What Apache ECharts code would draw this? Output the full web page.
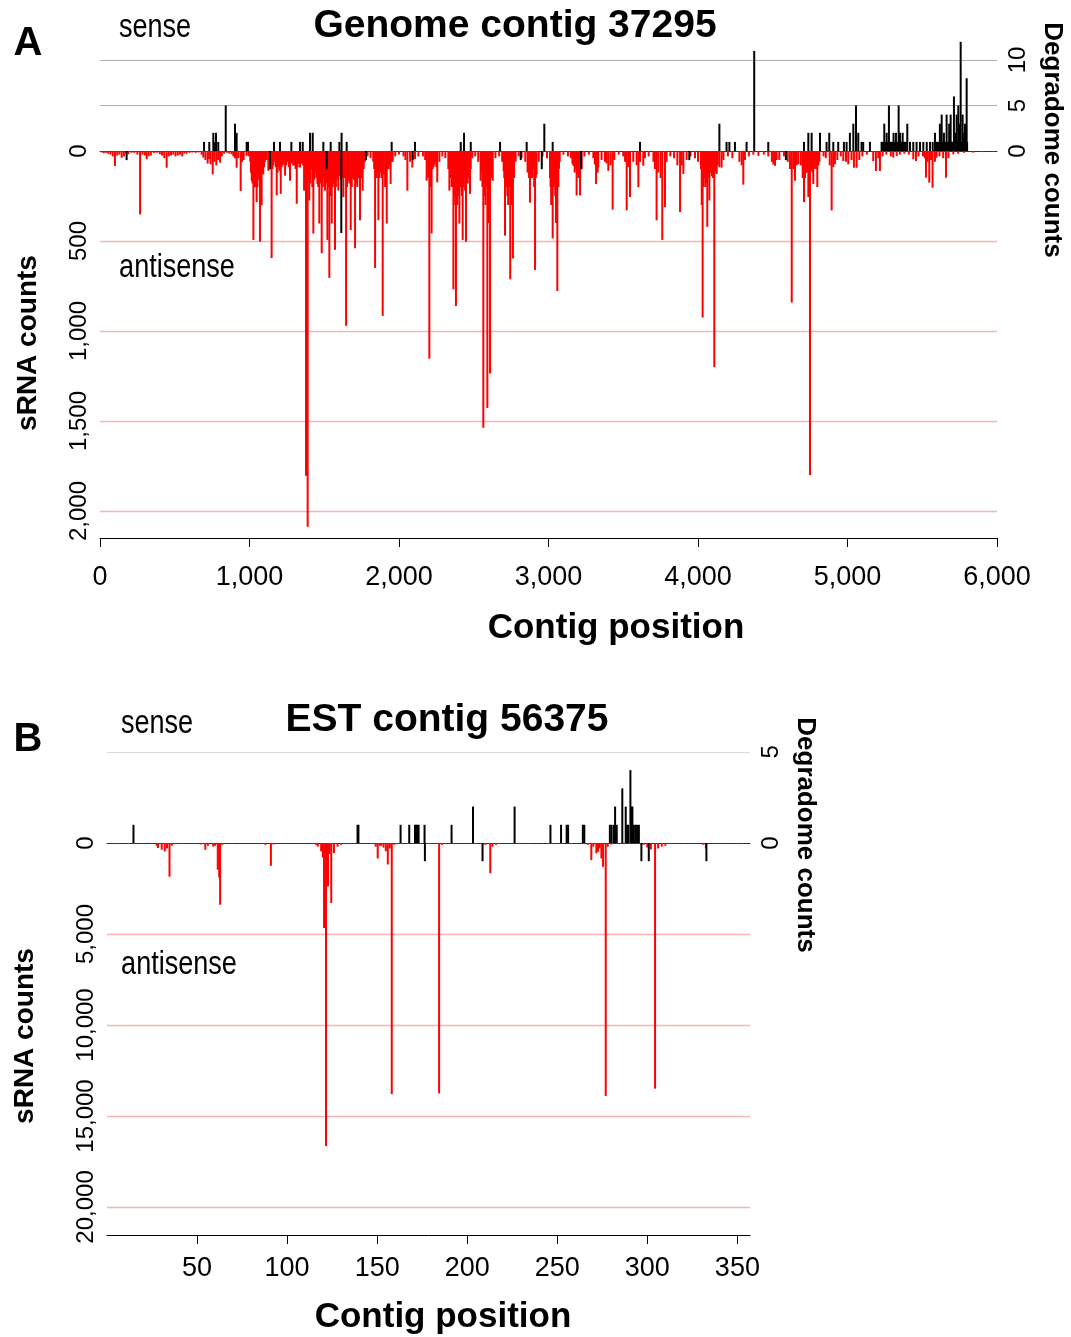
<!DOCTYPE html>
<html><head><meta charset="utf-8">
<script src="https://cdn.jsdelivr.net/npm/echarts@6/dist/echarts.min.js"></script>
<style>html,body{margin:0;padding:0;background:#fff}#c{width:1071px;height:1337px}</style>
</head><body><div id="c"></div>
<script>
// ---------- Panel A: Genome contig 37295 ----------
// [contig position, sRNA count] antisense
const genomeSrnaAntisense = [[10,8],[25,12],[40,10],[55,15],[70,20],[85,30],[100,83],[115,25],[130,20],[145,37],[160,30],[175,15],[190,18],[210,10],[230,10],[250,20],[268,352],[285,20],[300,25],[312,46],[325,30],[340,25],[360,12],[380,10],[400,18],[415,25],[430,40],[446,93],[460,30],[475,25],[490,20],[505,30],[520,25],[535,20],[550,30],[565,15],[580,15],[600,10],[620,8],[640,10],[660,8],[680,20],[691,37],[705,50],[720,70],[730,45],[740,74],[754,130],[765,60],[778,80],[790,50],[803,65],[815,30],[830,15],[850,10],[865,15],[881,18],[892,30],[903,40],[914,93],[925,40],[941,222],[950,60],[961,50],[981,27],[995,30],[1005,60],[1010,120],[1015,165],[1020,180],[1026,494],[1031,150],[1037,201],[1043,170],[1048,284],[1053,200],[1059,150],[1064,160],[1070,504],[1076,180],[1081,302],[1087,120],[1092,130],[1098,90],[1104,60],[1115,50],[1126,110],[1137,70],[1148,595],[1154,100],[1160,80],[1171,60],[1176,90],[1182,247],[1188,120],[1195,90],[1202,110],[1209,238],[1215,90],[1222,80],[1230,70],[1238,137],[1245,80],[1255,60],[1263,90],[1271,165],[1278,70],[1285,60],[1292,80],[1300,80],[1308,100],[1316,293],[1322,90],[1329,70],[1338,92],[1345,70],[1352,60],[1358,80],[1365,220],[1372,150],[1378,1804],[1383,200],[1389,2088],[1395,160],[1400,275],[1407,180],[1414,100],[1420,200],[1427,458],[1433,160],[1440,120],[1447,150],[1454,183],[1460,200],[1467,403],[1474,180],[1483,568],[1490,200],[1494,120],[1499,150],[1505,220],[1512,180],[1521,494],[1527,200],[1534,705],[1542,250],[1550,403],[1556,200],[1561,180],[1566,180],[1572,549],[1578,200],[1583,160],[1589,150],[1594,220],[1600,140],[1605,110],[1611,160],[1620,150],[1628,256],[1635,150],[1646,971],[1652,200],[1661,165],[1668,180],[1677,440],[1684,200],[1690,150],[1698,160],[1706,540],[1713,180],[1721,200],[1729,150],[1739,385],[1747,150],[1757,220],[1764,100],[1772,60],[1790,30],[1810,40],[1828,60],[1834,100],[1840,650],[1846,150],[1851,150],[1856,120],[1862,385],[1868,150],[1877,120],[1884,150],[1891,916],[1897,130],[1907,200],[1912,120],[1918,403],[1924,100],[1931,100],[1938,80],[1944,183],[1950,60],[1958,60],[1975,30],[2000,20],[2030,30],[2043,50],[2056,220],[2074,60],[2089,92],[2107,45],[2130,30],[2160,30],[2175,50],[2185,165],[2195,150],[2203,1154],[2210,200],[2218,458],[2225,100],[2230,90],[2238,80],[2245,60],[2250,90],[2256,174],[2270,60],[2290,30],[2310,40],[2330,100],[2337,220],[2344,150],[2352,200],[2358,200],[2364,769],[2370,250],[2376,300],[2381,861],[2386,200],[2390,300],[2396,250],[2404,403],[2410,200],[2415,200],[2420,250],[2426,494],[2431,200],[2437,150],[2442,220],[2448,504],[2454,180],[2460,180],[2467,150],[2475,238],[2480,100],[2490,40],[2510,30],[2530,60],[2546,165],[2552,120],[2558,200],[2564,1538],[2570,250],[2578,300],[2584,200],[2591,1428],[2596,250],[2600,400],[2604,200],[2609,1236],[2614,150],[2618,150],[2622,100],[2627,165],[2645,40],[2670,30],[2690,60],[2700,111],[2704,150],[2709,470],[2714,200],[2720,200],[2725,250],[2730,300],[2736,200],[2744,713],[2749,200],[2755,300],[2759,180],[2762,597],[2766,120],[2770,150],[2780,60],[2800,30],[2820,40],[2845,60],[2860,120],[2870,150],[2876,287],[2883,130],[2890,150],[2898,100],[2904,200],[2910,661],[2915,150],[2920,130],[2935,60],[2960,30],[2990,40],[3010,150],[3014,200],[3018,300],[3022,250],[3028,485],[3034,200],[3040,180],[3045,250],[3050,400],[3054,200],[3059,778],[3066,200],[3070,100],[3075,60],[3100,20],[3130,30],[3150,40],[3160,70],[3166,82],[3175,120],[3182,100],[3188,247],[3194,130],[3200,150],[3205,120],[3211,247],[3216,100],[3222,101],[3240,30],[3270,20],[3300,40],[3310,75],[3318,183],[3329,120],[3333,90],[3355,50],[3378,60],[3389,70],[3400,110],[3415,80],[3429,326],[3440,50],[3470,20],[3500,30],[3512,60],[3523,330],[3534,90],[3545,256],[3567,60],[3590,80],[3601,201],[3612,60],[3634,82],[3645,40],[3670,30],[3702,60],[3712,100],[3723,385],[3734,120],[3750,150],[3761,494],[3779,311],[3790,60],[3815,30],[3840,40],[3862,80],[3880,339],[3891,80],[3902,128],[3924,50],[3950,30],[3980,40],[4000,60],[4020,100],[4025,300],[4031,925],[4036,200],[4040,150],[4044,150],[4049,200],[4055,180],[4062,421],[4068,150],[4076,275],[4083,120],[4092,140],[4100,150],[4109,1200],[4117,120],[4125,128],[4132,80],[4143,90],[4158,92],[4170,50],[4200,30],[4230,40],[4277,60],[4292,80],[4303,187],[4314,50],[4340,30],[4370,20],[4404,27],[4440,20],[4470,30],[4494,60],[4504,75],[4515,82],[4526,50],[4544,50],[4575,30],[4600,60],[4615,100],[4627,842],[4638,100],[4649,165],[4660,80],[4671,73],[4688,80],[4700,150],[4705,120],[4709,284],[4716,150],[4722,120],[4730,120],[4738,256],[4744,150],[4749,1800],[4755,100],[4760,110],[4766,120],[4771,183],[4777,100],[4782,90],[4790,100],[4798,200],[4805,80],[4812,60],[4840,30],[4855,40],[4881,80],[4894,330],[4905,90],[4916,73],[4932,50],[4955,30],[4972,56],[4990,60],[5005,74],[5027,50],[5043,93],[5061,93],[5079,50],[5100,30],[5130,20],[5172,56],[5190,111],[5206,40],[5217,111],[5235,30],[5260,20],[5290,30],[5306,37],[5329,28],[5350,20],[5380,15],[5410,20],[5440,46],[5458,56],[5475,30],[5505,30],[5518,40],[5525,148],[5536,60],[5547,176],[5558,50],[5569,204],[5585,60],[5596,37],[5615,30],[5640,40],[5659,148],[5675,40],[5708,19],[5740,15],[5780,10],[5841,9],[5900,6],[5975,4]];
// [contig position, degradome count] sense
const genomeDegradomeSense = [[696,1],[731,1],[758,2],[768,1],[776,2],[791,1],[841,5],[903,3],[909,1],[914,2],[981,1],[990,1],[1164,1],[1204,1],[1280,1],[1338,1],[1356,1],[1405,2],[1423,2],[1494,1],[1543,1],[1601,1],[1616,2],[1650,1],[1951,1],[2107,1],[2413,1],[2435,2],[2480,1],[2676,1],[2854,1],[2972,3],[3028,1],[3612,1],[4143,3],[4191,1],[4210,1],[4247,1],[4325,1],[4376,11],[4470,1],[4709,1],[4738,2],[4760,2],[4816,2],[4860,1],[4878,2],[4905,1],[4938,1],[4976,1],[4994,1],[5016,2],[5039,3],[5057,5],[5072,2],[5094,1],[5105,1],[5150,1],[5228,1],[5235,1],[5240,1],[5246,3],[5252,1],[5258,1],[5262,2],[5268,1],[5277,5],[5283,1],[5290,1],[5296,1],[5302,1],[5308,2],[5314,1],[5324,2],[5330,1],[5336,1],[5342,5],[5351,2],[5357,1],[5363,1],[5369,2],[5376,1],[5384,1],[5390,1],[5400,3],[5418,1],[5440,1],[5462,1],[5485,1],[5507,1],[5530,1],[5552,1],[5570,1],[5585,2],[5592,1],[5600,1],[5606,1],[5612,1],[5618,3],[5624,1],[5630,4],[5638,1],[5645,2],[5652,1],[5658,1],[5663,4],[5670,1],[5676,1],[5680,3],[5686,1],[5690,4],[5696,1],[5702,1],[5707,1],[5712,6],[5717,1],[5722,2],[5726,1],[5730,4],[5736,1],[5741,5],[5746,1],[5750,3],[5754,1],[5757,12],[5763,1],[5770,4],[5775,1],[5780,2],[5786,3],[5792,1],[5797,8],[5800,1]];
// [contig position, degradome count] antisense (drawn downward)
const genomeDegradomeAntisense = [[178,1],[1137,2],[1516,2],[1614,9],[1779,1],[2092,1],[2814,1],[2955,2],[3218,2],[3942,1],[4588,1]];

// ---------- Panel B: EST contig 56375 ----------
const estSrnaAntisense = [[3,40],[6,60],[9,40],[12,50],[15,30],[20,40],[24,30],[27.6,150],[28.3,275],[30.4,367],[32.1,458],[33.3,300],[34.7,1850],[36,150],[38,60],[40,20],[42,40],[45,20],[48,30],[52,80],[54.6,370],[56,150],[59,200],[60,150],[61.5,1470],[62.3,1900],[62.8,3390],[64,100],[65,30],[70,40],[75,30],[80,30],[85,60],[88,100],[91,1250],[92.5,80],[95,20],[96,40],[100,30],[105,30],[110,20],[114,60],[116,100],[117,200],[118.9,458],[119.8,800],[120.5,4674],[121.6,16650],[122.7,2383],[123.5,600],[124.5,3300],[126,550],[128,200],[130,100],[133,60],[135,20],[137,40],[140,30],[147,50],[149.2,200],[150.3,850],[151.5,150],[152.2,150],[153.5,250],[154.8,450],[155.9,1180],[157,300],[158.1,13800],[159.5,100],[161,60],[163,40],[166,30],[170,30],[175,20],[180,40],[182,60],[184.4,13760],[186,100],[188,60],[190,40],[195,20],[205,40],[208,60],[210,100],[212.8,1660],[214,200],[216,100],[218,60],[222,30],[228,30],[235,40],[242,50],[245,40],[248,60],[252,40],[258,40],[265,60],[267,100],[268.9,940],[270,200],[271.7,570],[272.6,480],[273.5,300],[274.5,850],[275.4,1310],[276.9,13900],[278,200],[280,80],[285,30],[290,40],[296,60],[298,100],[300,250],[302,350],[304.3,13500],[306,300],[308,200],[310,150],[313,60],[320,30],[325,20],[331,100],[332.5,300],[340,20],[345,20],[350,30],[353,40]];
const estDegradomeSense = [[14.7,1],[139.1,1],[139.6,1],[163,1],[167.8,1],[171,1],[171.6,1],[172.3,1],[173,1],[176.3,1],[191.3,1],[203.2,2],[226.3,2],[246.2,1],[252.1,1],[255.2,1],[256,1],[264.2,1],[265,1],[279.2,1],[280.2,1],[281.5,1],[282.1,2],[283,1],[286.1,3],[288,2],[288.8,1],[289.4,1],[290.6,4],[291.2,2],[291.7,2],[292.4,1],[293.3,1],[294.3,1],[295.3,1]];
const estDegradomeAntisense = [[176.5,1],[208.5,1],[296.7,1],[300.8,1],[332.8,1]];

const FONT = '"Liberation Sans", Arial, Helvetica, sans-serif';
const thousands = v => Math.round(v).toLocaleString('en-US');

const chart = echarts.init(document.getElementById('c'), null, {renderer: 'canvas'});

function topXAxis(grid, max) {
  return {gridIndex: grid, type: 'value', min: 0, max: max, position: 'bottom',
    axisLine: {show: true, onZero: true, lineStyle: {color: '#333', width: 1}},
    axisTick: {show: false}, axisLabel: {show: false}, splitLine: {show: false}};
}
function bottomXAxis(grid, max, interval, showMin, showMax, margin) {
  return {gridIndex: grid, type: 'value', min: 0, max: max, interval: interval, position: 'bottom',
    axisLine: {show: true, onZero: false, lineStyle: {color: '#000', width: 1}},
    axisTick: {show: true, length: 9, lineStyle: {color: '#000'}},
    axisLabel: {show: true, color: '#000', fontFamily: FONT, fontSize: 27, margin: margin,
      showMinLabel: showMin, showMaxLabel: showMax, formatter: thousands},
    splitLine: {show: false}};
}
function degAxis(grid, max, color) {
  return {gridIndex: grid, type: 'value', position: 'right', min: 0, max: max, interval: 5,
    axisLine: {show: false}, axisTick: {show: false},
    axisLabel: {show: true, rotate: 90, color: '#000', fontFamily: FONT, fontSize: 24, margin: 9, showMaxLabel: false},
    splitLine: {show: true, showMinLine: false, showMaxLine: false, lineStyle: {color: color, width: 1.2}}};
}
function srnaAxis(grid, max, interval) {
  return {gridIndex: grid, type: 'value', position: 'left', inverse: true, min: 0, max: max, interval: interval,
    axisLine: {show: false}, axisTick: {show: false},
    axisLabel: {show: true, rotate: 90, color: '#000', fontFamily: FONT, fontSize: 24, margin: 9,
      showMaxLabel: false, formatter: thousands},
    splitLine: {show: true, showMinLine: false, showMaxLine: false, lineStyle: {color: '#f7b4b4', width: 1.4}}};
}
function hiddenDown(grid, max) {
  return {gridIndex: grid, type: 'value', position: 'right', inverse: true, min: 0, max: max, show: false,
    axisLabel: {show: false}, axisTick: {show: false}, axisLine: {show: false}, splitLine: {show: false}};
}
function bars(xi, yi, data, color) {
  return {type: 'bar', xAxisIndex: xi, yAxisIndex: yi, data: data, barWidth: 2, barGap: '-100%',
    itemStyle: {color: color}, silent: true, animation: false};
}
function txt(x, y, text, font, rot, sx) {
  return {type: 'text', x: x, y: y, rotation: rot || 0, scaleX: sx || 1, silent: true,
    style: {text: text, font: font, fill: '#000', align: 'center', verticalAlign: 'middle',
      textAlign: 'center', textVerticalAlign: 'middle'}};
}

chart.setOption({
  animation: false,
  backgroundColor: '#fff',
  grid: [
    {left: 100, width: 897, top: 40, height: 111},
    {left: 100, width: 897, top: 151, height: 387},
    {left: 107, width: 643, top: 743, height: 100},
    {left: 107, width: 643, top: 843, height: 392}
  ],
  xAxis: [
    topXAxis(0, 6000),
    bottomXAxis(1, 6000, 1000, true, true, 26),
    topXAxis(2, 357),
    bottomXAxis(3, 357, 50, false, false, 20)
  ],
  yAxis: [
    degAxis(0, 12.2, '#a9afb6'),
    srnaAxis(1, 2150, 500),
    hiddenDown(1, 42.5),
    degAxis(2, 5.49, '#d9d9d9'),
    srnaAxis(3, 21540, 5000),
    hiddenDown(3, 21.54)
  ],
  series: [
    bars(1, 1, genomeSrnaAntisense, '#ff0000'),
    bars(1, 2, genomeDegradomeAntisense, '#000000'),
    bars(0, 0, genomeDegradomeSense, '#000000'),
    bars(3, 4, estSrnaAntisense, '#ff0000'),
    bars(3, 5, estDegradomeAntisense, '#000000'),
    bars(2, 3, estDegradomeSense, '#000000')
  ],
  graphic: [
    txt(28, 44, 'A', 'bold 40px ' + FONT),
    txt(155, 28, 'sense', '33px ' + FONT, 0, 0.82),
    txt(515, 26, 'Genome contig 37295', 'bold 39px ' + FONT),
    txt(177, 268, 'antisense', '33px ' + FONT, 0, 0.82),
    txt(616, 628, 'Contig position', 'bold 35px ' + FONT),
    txt(28, 343, 'sRNA counts', 'bold 28px ' + FONT, Math.PI / 2),
    txt(1052, 140, 'Degradome counts', 'bold 26px ' + FONT, -Math.PI / 2),
    txt(28, 740, 'B', 'bold 40px ' + FONT),
    txt(157, 724, 'sense', '33px ' + FONT, 0, 0.82),
    txt(447, 720, 'EST contig 56375', 'bold 39px ' + FONT),
    txt(179, 965, 'antisense', '33px ' + FONT, 0, 0.82),
    txt(443, 1317, 'Contig position', 'bold 35px ' + FONT),
    txt(25, 1036, 'sRNA counts', 'bold 28px ' + FONT, Math.PI / 2),
    txt(805, 835, 'Degradome counts', 'bold 26px ' + FONT, -Math.PI / 2)
  ]
});
</script></body></html>
